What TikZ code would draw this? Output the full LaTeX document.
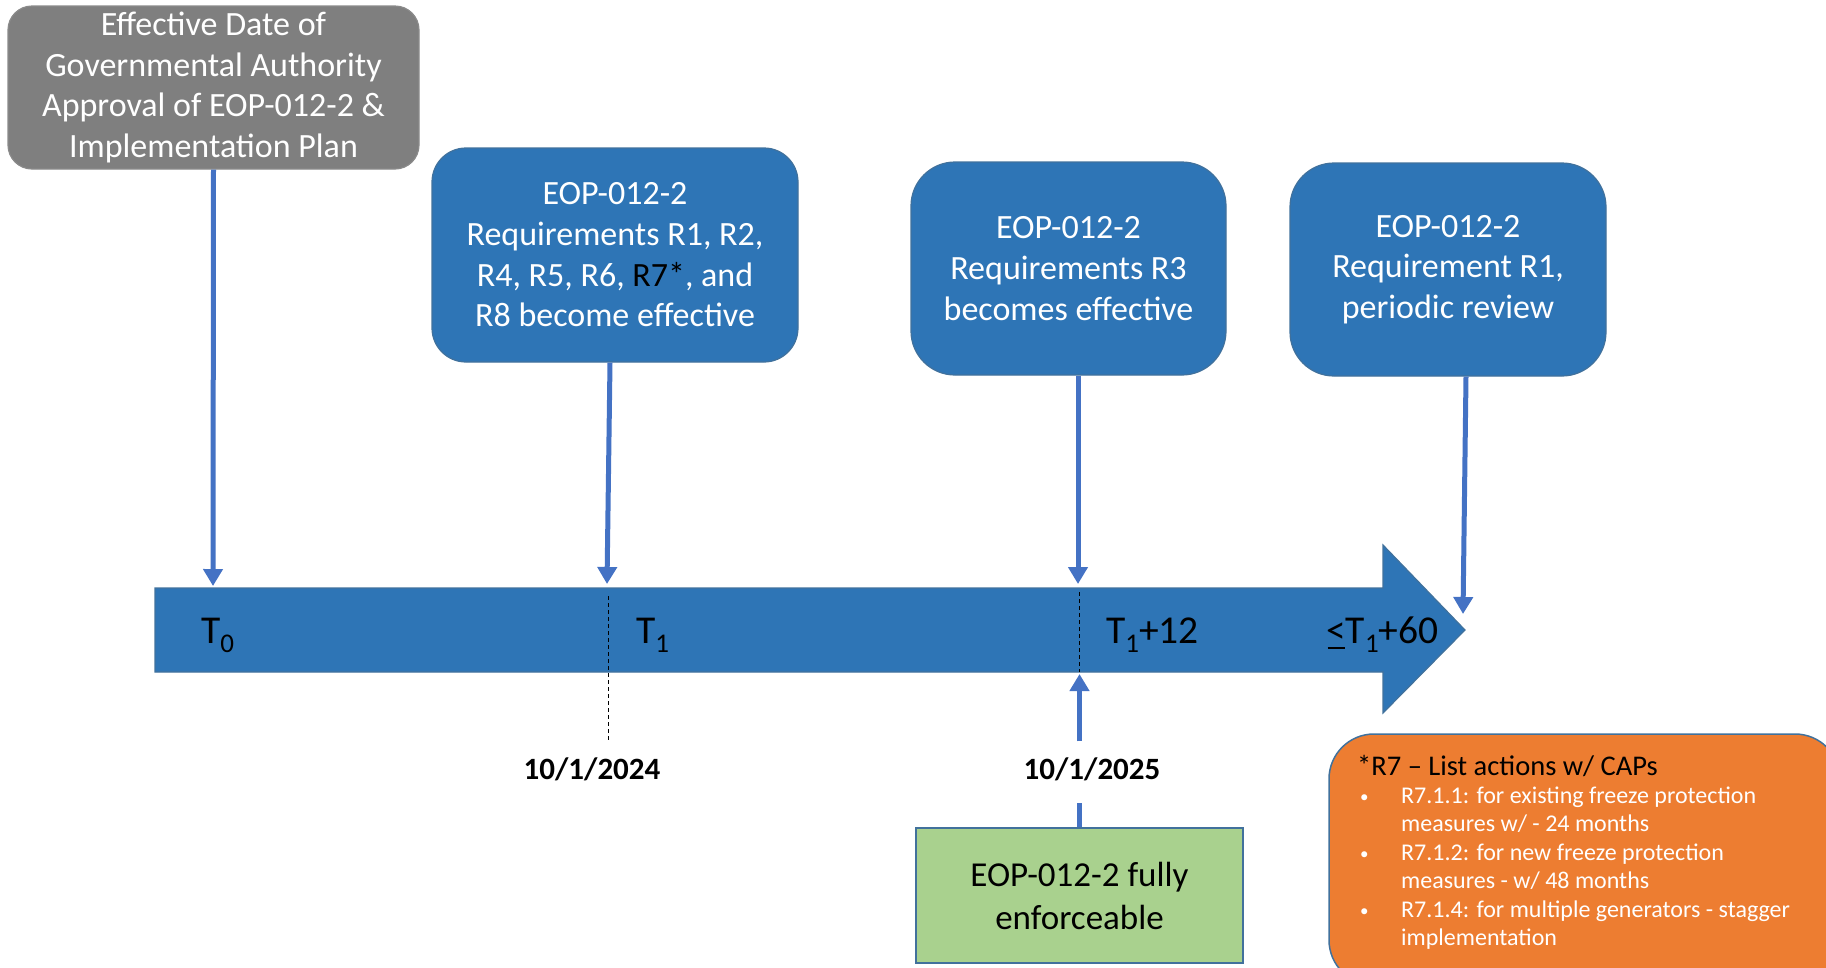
\documentclass[tikz,border=0pt]{standalone}
\usepackage{fontspec}
\setmainfont{Carlito}
\usetikzlibrary{arrows.meta}
\definecolor{boxblue}{HTML}{2E75B6}
\definecolor{edgeblue}{HTML}{41719C}
\definecolor{connblue}{HTML}{4472C4}
\definecolor{boxgray}{HTML}{7F7F7F}
\definecolor{edgegray}{HTML}{8A8A8A}
\definecolor{boxgreen}{HTML}{A9D18E}
\definecolor{boxorange}{HTML}{ED7D31}
\newcommand{\tsub}[1]{\raisebox{-9pt}{\fontsize{27}{27}\selectfont #1}}
\newcommand{\uless}{\makebox[0pt][l]{\hspace{1.5pt}\rule[-6pt]{17pt}{2.5pt}}<}
\newcommand{\smallbullet}{\makebox[41pt][l]{\raisebox{1pt}{\fontsize{17}{17}\selectfont •}}}
\tikzset{
  eventbox/.style={rectangle, fill=boxblue, draw=edgeblue, line width=1.2pt,
    text=white, align=center, font=\fontsize{34}{40.7}\selectfont, inner sep=0pt},
  graybox/.style={eventbox, fill=boxgray, draw=edgegray, rounded corners=24pt},
  greenbox/.style={rectangle, fill=boxgreen, draw=edgeblue, line width=1.5pt,
    text=black, align=center, font=\fontsize{35}{43}\selectfont, inner sep=0pt},
  orangebox/.style={rectangle, rounded corners=45pt, fill=boxorange, draw=edgeblue, line width=1.5pt},
  conn/.style={draw=connblue, line width=5pt, -{Triangle[width=19pt,length=17pt]}},
  connplain/.style={draw=connblue, line width=5pt},
  tick/.style={draw=black, line width=1pt, dash pattern=on 4pt off 3pt},
  tlabel/.style={text=black, font=\fontsize{39.5}{42}\selectfont, inner sep=0pt},
  datelabel/.style={text=black, font=\bfseries\fontsize{31}{36}\selectfont, fill=white,
    text height=20pt, text depth=6pt, inner ysep=17.5pt, inner xsep=4pt},
  headtext/.style={text=black, font=\fontsize{28.5}{30}\selectfont, inner sep=0pt},
  bullettext/.style={text=white, font=\fontsize{24}{28.5}\selectfont, inner sep=0pt}
}
\begin{document}
\begin{tikzpicture}[x=1pt,y=-1pt]
\useasboundingbox (0,0) rectangle (1826,967);
\clip (0,0) rectangle (1826,967);

% timeline arrow
\filldraw[fill=boxblue, draw=edgeblue, line width=1.2pt]
  (155,588) -- (1383,588) -- (1383,545) -- (1465,630) -- (1383,713) -- (1383,672) -- (155,672) -- cycle;
\coordinate (p0) at (213,586);
\coordinate (p1) at (607,584);
\coordinate (p12) at (1078,584);
\coordinate (p60) at (1463,614);
\coordinate (u12) at (1079.5,674);

% dashed ticks
\draw[tick] (608,596) -- (608,741);
\draw[tick] (1079,592) -- (1079,672);

% labels on the timeline
\node[tlabel, anchor=base west] (t0) at (201,643) {T\tsub{0}};
\node[tlabel, anchor=base west] (t1) at (636,643) {T\tsub{1}};
\node[tlabel, anchor=base west] (t12) at (1106,643) {T\tsub{1}+12};
\node[tlabel, anchor=base west] (t60) at (1326,643) {\uless T\tsub{1}+60};

% event boxes
\node[graybox, minimum width=411pt, minimum height=163pt] (gov) at (213.5,87.5)
  {Effective Date of\\Governmental Authority\\Approval of EOP-012-2 \&\\Implementation Plan};
\node[eventbox, rounded corners=34pt, minimum width=366pt, minimum height=214pt] (b2) at (615,255)
  {EOP-012-2\\Requirements R1, R2,\\R4, R5, R6, {\color{black}R7*}, and\\R8 become effective};
\node[eventbox, rounded corners=44pt, minimum width=315pt, minimum height=213pt] (b3) at (1068.5,268.5)
  {EOP-012-2\\Requirements R3\\becomes effective};
\node[eventbox, rounded corners=44pt, minimum width=316pt, minimum height=213pt] (b4) at (1448,269.5)
  {EOP-012-2\\Requirement R1,\\periodic review};

% connectors down
\draw[conn] (gov.south) -- (p0);
\draw[conn] ([xshift=-5pt]b2.south) -- (p1);
\draw[conn] ([xshift=9.5pt]b3.south) -- (p12);
\draw[conn] ([xshift=18pt]b4.south) -- (p60);

% dates
\node[datelabel] (d24) at (592,772) {10/1/2024};
\node[datelabel] (d25) at (1092,772) {10/1/2025};

% green box and up arrow
\node[greenbox, minimum width=327pt, minimum height=135pt] (full) at (1079.5,895.5)
  {EOP-012-2 fully\\enforceable};
\draw[connplain] (full.north) -- (full.north |- d25.south);
\draw[conn] (full.north |- d25.north) -- (u12);

% orange note
\node[orangebox, minimum width=511pt, minimum height=251pt] (note) at (1584.5,859.5) {};
\node[headtext, anchor=base west] (nh) at (1357,775) {*R7 – List actions w/ CAPs};
\node[bullettext, anchor=base west] (n1) at (1360,803) {\smallbullet R7.1.1: for existing freeze protection};
\node[bullettext, anchor=base west] (n2) at (1401,831.5) {measures w/ - 24 months};
\node[bullettext, anchor=base west] (n3) at (1360,860) {\smallbullet R7.1.2: for new freeze protection};
\node[bullettext, anchor=base west] (n4) at (1401,888.5) {measures - w/ 48 months};
\node[bullettext, anchor=base west] (n5) at (1360,917) {\smallbullet R7.1.4: for multiple generators - stagger};
\node[bullettext, anchor=base west] (n6) at (1401,945.5) {implementation};
\end{tikzpicture}
\end{document}
